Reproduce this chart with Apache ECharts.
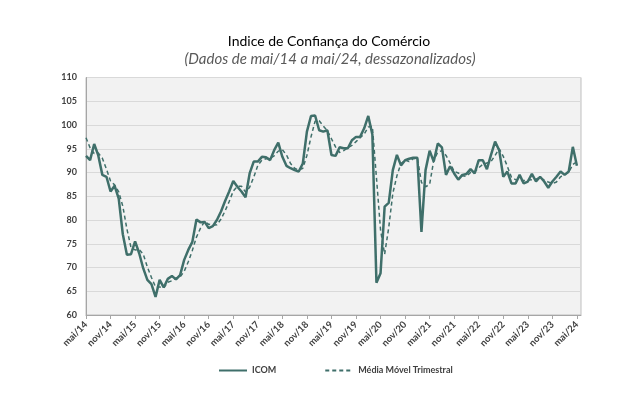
<!DOCTYPE html>
<html>
<head>
<meta charset="utf-8">
<script src="https://cdn.jsdelivr.net/npm/echarts@6/dist/echarts.min.js"></script>
<style>
  html, body { margin: 0; padding: 0; background: #fff; }
  #main { width: 634px; height: 398px; }
</style>
</head>
<body>
<div id="main"></div>
<script>
// meses de mai/14 a mai/24 (+ uma posição vazia no fim do eixo)
const meses = ['jan', 'fev', 'mar', 'abr', 'mai', 'jun', 'jul', 'ago', 'set', 'out', 'nov', 'dez']
const categorias = []
for (let i = 0; i < 122; i++) {
  const m = (4 + i) % 12
  const a = 14 + Math.floor((4 + i) / 12)
  categorias.push(meses[m] + '/' + a)
}

// ICOM dessazonalizado
const icom = [
  93.5, 92.6, 96.0, 93.6, 89.5, 89.1, 86.0, 87.2, 84.5, 77.0,
  72.7, 72.8, 75.5, 73.0, 69.8, 67.4, 66.5, 63.8, 67.4, 65.8,
  67.6, 68.2, 67.5, 68.4, 71.6, 73.7, 75.4, 80.1, 79.5, 79.6,
  78.3, 78.7, 80.0, 81.8, 84.0, 86.0, 88.2, 87.0, 86.0, 84.8,
  89.8, 92.3, 92.3, 93.3, 93.2, 92.6, 94.7, 96.3, 93.3, 91.4,
  90.9, 90.5, 90.2, 91.9, 98.6, 101.9, 102.0, 98.9, 98.6, 98.9,
  93.7, 93.5, 95.3, 95.1, 95.1, 96.8, 97.5, 97.5, 99.3, 101.9,
  98.0, 66.8, 68.8, 82.8, 83.6, 90.5, 93.7, 91.5, 92.6, 92.9,
  93.1, 93.1, 77.5, 90.5, 94.6, 92.3, 96.1, 95.3, 89.5, 91.3,
  89.8, 88.5, 89.5, 89.7, 90.7, 89.8, 92.6, 92.6, 90.7, 93.7,
  96.5, 94.7, 89.1, 90.2, 87.7, 87.7, 89.5, 87.7, 88.1, 89.7,
  88.1, 89.1, 88.1, 86.8, 88.1, 89.1, 90.2, 89.5, 90.2, 95.4,
  91.4
]

// Média móvel trimestral
const mediaMovel = [
  97.3, 95.2, 94.0, 94.1, 93.0, 90.7, 88.2, 87.4, 85.9, 82.9,
  78.1, 74.2, 73.7, 73.8, 72.8, 70.1, 67.9, 65.9, 65.9, 65.7,
  66.9, 67.2, 67.8, 68.0, 69.2, 71.2, 73.6, 76.4, 78.3, 79.7,
  79.1, 78.9, 79.0, 80.2, 81.9, 83.9, 86.1, 87.1, 87.1, 85.9,
  86.9, 89.0, 91.5, 92.6, 92.9, 93.0, 93.5, 94.5, 94.8, 93.7,
  91.9, 90.9, 90.5, 90.9, 93.6, 97.5, 100.8, 100.9, 99.8, 98.8,
  97.1, 95.4, 94.2, 94.6, 95.2, 95.7, 96.5, 97.3, 98.1, 99.6,
  99.7, 88.9, 77.9, 72.8, 78.4, 85.6, 89.3, 91.9, 92.6, 92.3,
  92.9, 93.0, 87.9, 87.0, 87.5, 92.5, 94.3, 94.6, 93.6, 92.0,
  90.2, 89.9, 89.3, 89.2, 90.0, 90.1, 91.0, 91.7, 92.0, 92.3,
  93.6, 95.0, 93.4, 91.3, 89.0, 88.5, 88.3, 88.3, 88.4, 88.5,
  88.6, 89.0, 88.4, 88.0, 87.7, 88.0, 89.1, 89.6, 90.0, 91.7,
  92.3
]

const cor = '#3f6f6a'
const chart = echarts.init(document.getElementById('main'))
const option = {
  animation: false,
  title: [
    {
      text: 'Indice de Confiança do Comércio',
      left: 324,
      top: 29,
      textAlign: 'center',
      textStyle: { fontFamily: 'Lato', fontSize: 14, fontWeight: 'normal', color: '#000' }
    },
    {
      text: '(Dados de mai/14 a mai/24, dessazonalizados)',
      left: 325,
      top: 47,
      textAlign: 'center',
      textStyle: { fontFamily: 'Lato', fontSize: 15, fontStyle: 'italic', fontWeight: 'normal', color: '#595959' }
    }
  ],
  legend: {
    left: 213,
    top: 361,
    itemWidth: 28,
    itemHeight: 10,
    itemGap: 48,
    itemStyle: { color: 'transparent', borderWidth: 0 },
    textStyle: { fontFamily: 'Lato', fontSize: 9, fontWeight: 'bold', color: '#404040' },
    data: ['ICOM', 'Média Móvel Trimestral']
  },
  grid: {
    left: 86,
    right: 53,
    top: 77.5,
    bottom: 83,
    show: true,
    backgroundColor: '#f2f2f2',
    borderColor: '#bfbfbf',
    borderWidth: 1
  },
  xAxis: {
    type: 'category',
    boundaryGap: false,
    data: categorias,
    axisLine: { lineStyle: { color: '#a6a6a6' } },
    axisTick: { interval: 5, length: 4, lineStyle: { color: '#a6a6a6' } },
    axisLabel: {
      interval: 5,
      rotate: 45,
      margin: 8,
      fontFamily: 'Lato',
      fontSize: 9.5,
      fontWeight: 'bold',
      color: '#404040'
    },
    splitLine: { show: false }
  },
  yAxis: {
    type: 'value',
    min: 60,
    max: 110,
    interval: 5,
    axisLine: { show: true, lineStyle: { color: '#a6a6a6' } },
    axisTick: { show: false },
    axisLabel: { margin: 9, fontFamily: 'Lato', fontSize: 9, fontWeight: 'bold', color: '#404040' },
    splitLine: { lineStyle: { color: '#d9d9d9' } }
  },
  series: [
    {
      name: 'ICOM',
      type: 'line',
      data: icom,
      symbol: 'none',
      lineStyle: { color: cor, width: 2.5 },
      itemStyle: { color: cor },
      z: 3
    },
    {
      name: 'Média Móvel Trimestral',
      type: 'line',
      data: mediaMovel,
      symbol: 'none',
      lineStyle: { color: cor, width: 1.5, type: [4, 3] },
      itemStyle: { color: cor },
      z: 2
    }
  ]
}
chart.setOption(option)
</script>
</body>
</html>
